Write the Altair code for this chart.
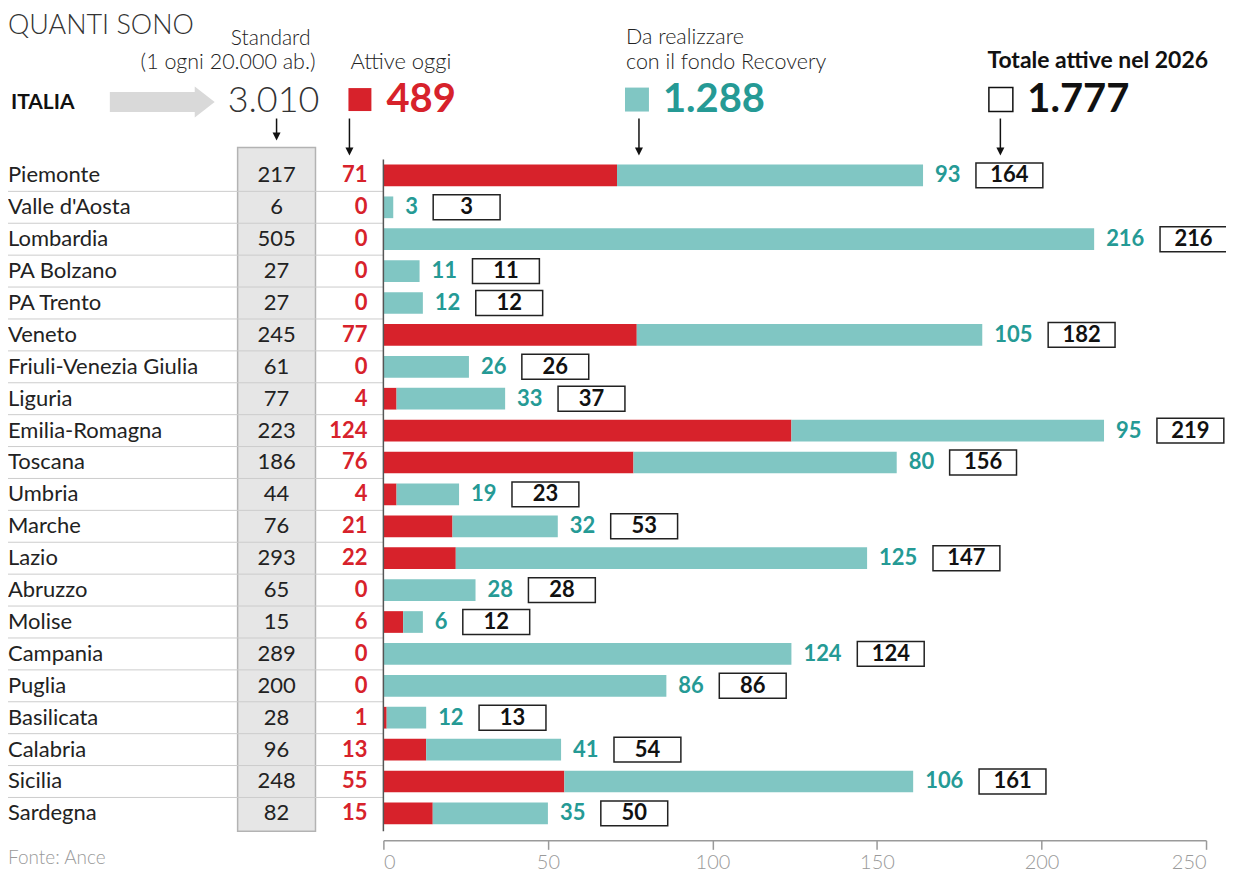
import altair as alt
import pandas as pd

# ---------------- data ----------------
regioni = ["Piemonte", "Valle d'Aosta", "Lombardia", "PA Bolzano", "PA Trento", "Veneto",
           "Friuli-Venezia Giulia", "Liguria", "Emilia-Romagna", "Toscana", "Umbria", "Marche",
           "Lazio", "Abruzzo", "Molise", "Campania", "Puglia", "Basilicata", "Calabria",
           "Sicilia", "Sardegna"]
standard = [217, 6, 505, 27, 27, 245, 61, 77, 223, 186, 44, 76, 293, 65, 15, 289, 200, 28, 96, 248, 82]
attive = [71, 0, 0, 0, 0, 77, 0, 4, 124, 76, 4, 21, 22, 0, 6, 0, 0, 1, 13, 55, 15]
recovery = [93, 3, 216, 11, 12, 105, 26, 33, 95, 80, 19, 32, 125, 28, 6, 124, 86, 12, 41, 106, 35]
totale = [164, 3, 216, 11, 12, 182, 26, 37, 219, 156, 23, 53, 147, 28, 12, 124, 86, 13, 54, 161, 50]
tick_values = [0, 50, 100, 150, 200, 250]

titolo = "QUANTI SONO"
lbl_standard = ["Standard", "(1 ogni 20.000 ab.)"]
lbl_attive = "Attive oggi"
lbl_recovery = ["Da realizzare", "con il fondo Recovery"]
lbl_totale = "Totale attive nel 2026"
lbl_italia = "ITALIA"
italia_values = ["3.010", "489", "1.288", "1.777"]
fonte = "Fonte: Ance"

# ---------------- styles ----------------
RED = "#d7222b"
TEAL_BAR = "#80c6c3"
TEAL_TXT = "#259a95"
DARK = "#222222"
GRAY = "#9a9a9a"
FONT = "Lato"

W, H = 1220, 864
PX = 250 / 824.0  # data units per pixel

df = pd.DataFrame({"regione": regioni, "standard": standard, "attive": attive,
                   "recovery": recovery, "totale": totale})
df["idx"] = list(range(len(df)))
df["zero"] = 0

xs = alt.Scale(domain=[0, 250], range=[376, 1200], nice=False, zero=False)
ys = alt.Scale(domain=[-0.5, 20.5], range=[151, 822], nice=False, zero=False)
AX = alt.Axis(values=tick_values, title=None, offset=833 - H, domainColor=GRAY, domainWidth=1.5,
              tickColor=GRAY, tickWidth=1.5, tickSize=9, labelColor=GRAY, labelFont=FONT,
              labelFontSize=20, labelFontWeight=300, labelPadding=3, grid=False)


def X(f):
    return alt.X(f, type="quantitative", scale=xs, axis=AX)


def Y(f):
    return alt.Y(f, type="quantitative", scale=ys, axis=None)


one = pd.DataFrame({"t": ["x"]})


def txt(text, x, y, **style):
    d = pd.DataFrame({"t": [text]})
    return alt.Chart(d).mark_text(font=FONT, **style).encode(
        x=alt.value(x), y=alt.value(y), text="t:N")


base = alt.Chart(df)

# gray standard column box
std_box = alt.Chart(one).mark_rect(fill="#e6e6e6", stroke="#b3b3b3", strokeWidth=1.5).encode(
    x=alt.value(230), x2=alt.value(308), y=alt.value(139), y2=alt.value(824))

# separators
seps = base.transform_filter("datum.idx < 20").transform_calculate(
    ysep="datum.idx + 0.5").mark_rule(color="#cccccc", strokeWidth=1).encode(
    x=alt.value(0), x2=alt.value(376), y=Y("ysep"))

bars = base.transform_calculate(y0="datum.idx - 0.34", y1="datum.idx + 0.34")
red_bars = bars.transform_filter("datum.attive > 0").mark_bar(color=RED).encode(
    x=X("zero"), x2="attive", y=Y("y0"), y2="y1")
teal_bars = bars.mark_bar(color=TEAL_BAR).encode(
    x=X("attive"), x2="totale", y=Y("y0"), y2="y1")

axis_line = alt.Chart(one).mark_rule(color="#555555", strokeWidth=1.5).encode(
    x=alt.value(376), y=alt.value(151), y2=alt.value(824))

names = base.mark_text(font=FONT, fontSize=22, align="left", baseline="middle", color=DARK).encode(
    x=alt.value(0), y=Y("idx"), text="regione:N")
std_txt = base.mark_text(font=FONT, fontSize=22, align="center", baseline="middle", color=DARK).encode(
    x=alt.value(269), y=Y("idx"), text="standard:Q")
att_txt = base.mark_text(font=FONT, fontSize=22, fontWeight="bold", align="right", baseline="middle",
                         color=RED).encode(x=alt.value(360), y=Y("idx"), text="attive:Q")

rec_txt = base.mark_text(font=FONT, fontSize=22, fontWeight="bold", align="left", baseline="middle",
                         dx=12, color=TEAL_TXT).encode(x=X("totale"), y=Y("idx"), text="recovery:Q")

boxes_b = base.transform_calculate(
    nd="length(toString(datum.recovery))").transform_calculate(
    bl="datum.totale + (12 + datum.nd * 13 + 15) * %f" % PX).transform_calculate(
    br="datum.bl + 67 * %f" % PX, bc="datum.bl + 33.5 * %f" % PX,
    by0="datum.idx - 0.39", by1="datum.idx + 0.39")
tot_box = boxes_b.mark_rect(fill="white", stroke="#222222", strokeWidth=1.5).encode(
    x=X("bl"), x2="br", y=Y("by0"), y2="by1")
tot_txt = boxes_b.mark_text(font=FONT, fontSize=22, fontWeight="bold", align="center",
                            baseline="middle", color="#111111").encode(
    x=X("bc"), y=Y("idx"), text="totale:Q")

# ---------------- header ----------------
ARROW = "M-1,-0.19L0.62,-0.19L0.62,-0.295L1,0L0.62,0.295L0.62,0.19L-1,0.19Z"
gray_arrow = alt.Chart(one).mark_point(shape=ARROW, size=11025, filled=True, color="#d9d9d9",
                                       opacity=1, strokeWidth=0).encode(
    x=alt.value(154.5), y=alt.value(93.5))

sq_red = alt.Chart(one).mark_square(size=529, color=RED, opacity=1).encode(
    x=alt.value(352.5), y=alt.value(91))
sq_teal = alt.Chart(one).mark_square(size=576, color=TEAL_BAR, opacity=1).encode(
    x=alt.value(630), y=alt.value(91))
sq_white = alt.Chart(one).mark_square(size=576, filled=False, color="#111111", strokeWidth=1.5,
                                      opacity=1).encode(x=alt.value(994.5), y=alt.value(91))

HEAD = "M-1,-1L1,-1L0,1Z"
arrows = []
for ax_, y_end in [(269, 128), (342, 143), (632, 143), (994, 143)]:
    arrows.append(alt.Chart(one).mark_rule(color="#111111", strokeWidth=1.5).encode(
        x=alt.value(ax_), y=alt.value(110), y2=alt.value(y_end)))
    arrows.append(alt.Chart(one).mark_point(shape=HEAD, size=64, filled=True, color="#111111",
                                            opacity=1, strokeWidth=0).encode(
        x=alt.value(ax_), y=alt.value(y_end)))

header = [
    txt(titolo, 0, 25, fontSize=27, fontWeight=300, color="#333333", align="left", baseline="alphabetic"),
    txt(lbl_standard[0], 303, 36, fontSize=21, fontWeight=300, color=DARK, align="right", baseline="alphabetic"),
    txt(lbl_standard[1], 308, 60, fontSize=21.5, fontWeight=300, color=DARK, align="right", baseline="alphabetic"),
    txt(lbl_attive, 343, 60, fontSize=22, fontWeight=300, color=DARK, align="left", baseline="alphabetic"),
    txt(lbl_recovery[0], 619, 35, fontSize=21.5, fontWeight=300, color=DARK, align="left", baseline="alphabetic"),
    txt(lbl_recovery[1], 619, 60, fontSize=21.5, fontWeight=300, color=DARK, align="left", baseline="alphabetic"),
    txt(lbl_totale, 981, 59, fontSize=23, fontWeight="bold", color="#111111", align="left", baseline="alphabetic"),
    txt(lbl_italia, 3, 100, fontSize=21, fontWeight="bold", color="#111111", align="left", baseline="alphabetic"),
    txt(italia_values[0], 220, 103, fontSize=36, fontWeight=300, color="#333333", align="left", baseline="alphabetic"),
    txt(italia_values[1], 379, 103, fontSize=40, fontWeight="bold", color=RED, align="left", baseline="alphabetic"),
    txt(italia_values[2], 656, 103, fontSize=40, fontWeight="bold", color=TEAL_TXT, align="left", baseline="alphabetic"),
    txt(italia_values[3], 1021, 103, fontSize=40, fontWeight="bold", color="#111111", align="left", baseline="alphabetic"),
    txt(fonte, 0, 857, fontSize=19, fontWeight=300, color=GRAY, align="left", baseline="alphabetic"),
]

chart = alt.layer(
    std_box, seps, red_bars, teal_bars, axis_line, names, std_txt, att_txt, rec_txt,
    tot_box, tot_txt, gray_arrow, sq_red, sq_teal, sq_white, *arrows, *header
).properties(width=W, height=H, padding=0, autosize="none", background="white"
).configure_view(strokeWidth=0)

chart.save("out.html", embed_options={"renderer": "svg", "actions": False})
